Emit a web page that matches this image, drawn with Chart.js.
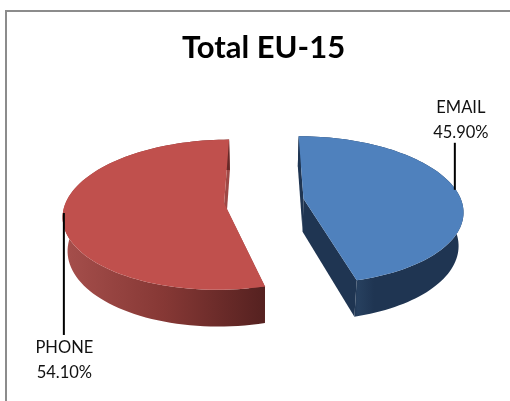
<!DOCTYPE html>
<html>
<head>
<meta charset="utf-8">
<style>
  html, body { margin: 0; padding: 0; background: #fff; }
  canvas { display: block; }
</style>
<script src="https://cdn.jsdelivr.net/npm/chart.js@4/dist/chart.umd.js"></script>
</head>
<body>
<canvas id="c" width="510" height="401"></canvas>
<script>
const categories = ["EMAIL", "PHONE"];
const shares = [45.9, 54.1];
const shareLabels = ["45.90%", "54.10%"];
const topColors = ["#4F81BD", "#C0504D"];

// look of the tilted disc
const SQUASH = 0.46, PERSP = 0.00095, DEPTH = 33, SHRINK = 0.025;
const CX = 265;
// small screen nudges per slice
const nudgeX = [1, -3], nudgeY = [-3, -3];

// plane coords (X right, Y towards viewer, z 0 top / 1 bottom) to screen
function project(arc, X, Y, z) {
  const s = 1 / (1 - PERSP * Y);
  const k = s * (1 - SHRINK * z);
  return {
    x: CX + nudgeX[arc.i] + X * k,
    y: arc.y + nudgeY[arc.i] + SQUASH * Y * k + DEPTH * z * s
  };
}

function rimPoint(arc, a, z) {
  return project(arc, arc.ox + arc.r * Math.cos(a), arc.oy + arc.r * Math.sin(a), z);
}

function slicePath(ctx, pts) {
  ctx.beginPath();
  pts.forEach((p, i) => (i ? ctx.lineTo(p.x, p.y) : ctx.moveTo(p.x, p.y)));
  ctx.closePath();
  ctx.fill();
}

function arcPts(arc, from, to, z) {
  const out = [];
  const n = 90;
  for (let i = 0; i <= n; i++) out.push(rimPoint(arc, from + (to - from) * i / n, z));
  return out;
}

const pie3d = {
  id: "pie3d",
  beforeDraw(chart) {
    const ctx = chart.ctx;
    ctx.save();
    ctx.strokeStyle = "#8c8c8c";
    ctx.lineWidth = 2;
    ctx.beginPath();
    ctx.moveTo(6, 401);
    ctx.lineTo(6, 11);
    ctx.lineTo(510, 11);
    ctx.stroke();
    ctx.restore();
  },
  beforeDatasetDraw(chart, args) {
    const ctx = chart.ctx;
    const arcs = args.meta.data.map((el, i) => {
      const p = el.getProps(["x", "y", "startAngle", "endAngle", "outerRadius"], true);
      const mid = (p.startAngle + p.endAngle) / 2;
      const off = el.options.offset;
      return {
        y: p.y, r: p.outerRadius, a0: p.startAngle, a1: p.endAngle, mid: mid,
        ox: Math.cos(mid) * off, oy: Math.sin(mid) * off, i: i
      };
    });

    ctx.save();
    arcs.forEach((arc) => {
      const i = arc.i;
      const apexT = project(arc, arc.ox, arc.oy, 0);
      const apexB = project(arc, arc.ox, arc.oy, 1);

      const grad = ctx.createLinearGradient(i === 0 ? 300 : 63, 0, i === 0 ? 465 : 265, 0);
      if (i === 0) {
        grad.addColorStop(0, "#1F3552");
        grad.addColorStop(0.32, "#1F3552");
        grad.addColorStop(0.35, "#27405F");
        grad.addColorStop(0.45, "#1F3552");
        grad.addColorStop(1, "#1F3552");
      } else {
        grad.addColorStop(0, "#A64F4C");
        grad.addColorStop(0.5, "#863835");
        grad.addColorStop(1, "#552120");
      }
      ctx.fillStyle = i === 0 ? "#1F3552" : "#9E4845";
      // straight walls first, the rim goes over them
      [arc.a0, arc.a1].forEach((a) => {
        slicePath(ctx, [apexT, rimPoint(arc, a, 0), rimPoint(arc, a, 1), apexB]);
      });
      ctx.fillStyle = grad;
      slicePath(ctx, arcPts(arc, arc.a0, arc.a1, 0).concat(arcPts(arc, arc.a1, arc.a0, 1)));
      ctx.fillStyle = topColors[i];
      slicePath(ctx, [apexT].concat(arcPts(arc, arc.a0, arc.a1, 0)));

      // leader line from the rim straight to the label
      const rim = rimPoint(arc, arc.mid, 0);
      const toUp = i === 0;
      const lineX = toUp ? rim.x - 1 : rim.x + 1;
      ctx.strokeStyle = "#000";
      ctx.lineWidth = 2;
      ctx.beginPath();
      ctx.moveTo(lineX, rim.y);
      ctx.lineTo(lineX, toUp ? rim.y - 47 : rim.y + 122);
      ctx.stroke();

      ctx.fillStyle = "#111";
      ctx.font = "16.5px Lato";
      ctx.textAlign = "center";
      ctx.textBaseline = "middle";
      const lx = toUp ? rim.x + 5 : rim.x + 1.5;
      const ly = toUp ? rim.y - 82 : rim.y + 135;
      ctx.fillText(categories[i], lx, ly);
      ctx.fillText(shareLabels[i], lx, ly + 25);
    });
    ctx.restore();
    return false;
  }
};

new Chart(document.getElementById("c"), {
  type: "pie",
  data: {
    labels: categories,
    datasets: [{
      data: shares,
      backgroundColor: topColors,
      borderWidth: 0,
      offset: 38,
      radius: 158
    }]
  },
  options: {
    responsive: false,
    animation: false,
    rotation: 0,
    layout: { padding: { left: 17, right: 0, top: 0, bottom: 64 } },
    plugins: {
      legend: { display: false },
      tooltip: { enabled: false },
      title: {
        display: true,
        text: "Total EU-15",
        color: "#000",
        font: { family: "Lato", size: 31, weight: "bold" },
        padding: { top: 29, bottom: 5 }
      }
    }
  },
  plugins: [pie3d]
});
</script>
</body>
</html>
